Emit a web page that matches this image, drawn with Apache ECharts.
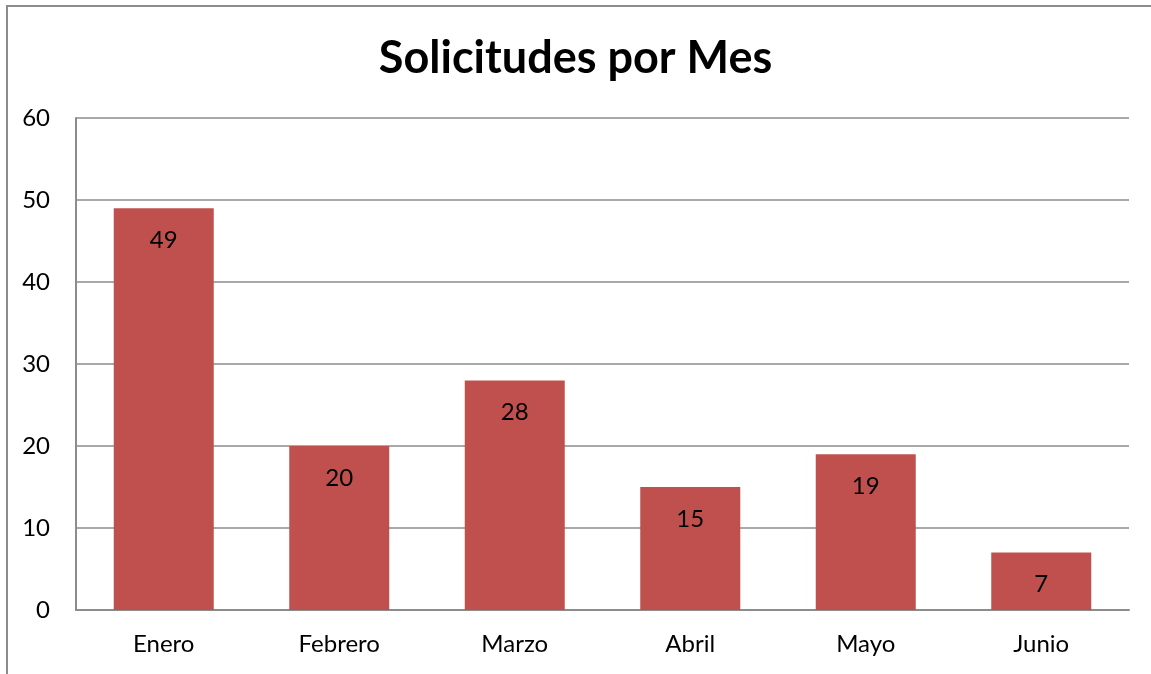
<!DOCTYPE html>
<html>
<head>
<meta charset="utf-8">
<script src="https://cdn.jsdelivr.net/npm/echarts@6/dist/echarts.min.js"></script>
<style>
  html, body { margin: 0; padding: 0; background: #fff; }
  #chart { width: 1151px; height: 674px; }
</style>
</head>
<body>
<div id="chart"></div>
<script>
const meses = ['Enero', 'Febrero', 'Marzo', 'Abril', 'Mayo', 'Junio'];
const solicitudes = [49, 20, 28, 15, 19, 7];
const yTicks = [0, 10, 20, 30, 40, 50, 60];

const chart = echarts.init(document.getElementById('chart'));
const fuente = 'Lato, "Open Sans", sans-serif';

chart.setOption({
    animation: false,
    textStyle: { fontFamily: fuente },
    graphic: [{
        type: 'rect',
        shape: { x: 7, y: 6, width: 1300, height: 900 },
        style: { fill: 'none', stroke: '#8c8c8c', lineWidth: 2 },
        silent: true
    }],
    title: {
        text: 'Solicitudes por Mes',
        left: 'center',
        top: 31,
        textStyle: { fontFamily: fuente, fontSize: 45, fontWeight: 'bold', color: '#000' }
    },
    grid: { left: 76, right: 22, top: 118, bottom: 64 },
    xAxis: {
        type: 'category',
        data: meses,
        axisLine: { lineStyle: { color: '#8c8c8c', width: 2 } },
        axisTick: { show: false },
        axisLabel: { color: '#000', fontSize: 24, margin: 22, fontFamily: fuente }
    },
    yAxis: {
        type: 'value',
        min: yTicks[0],
        max: yTicks[yTicks.length - 1],
        interval: 10,
        axisLine: { show: true, lineStyle: { color: '#8c8c8c', width: 2 } },
        axisTick: { show: false },
        splitLine: { lineStyle: { color: '#8c8c8c', width: 1.5 } },
        axisLabel: { color: '#000', fontSize: 24, margin: 26, fontFamily: fuente }
    },
    series: [{
        type: 'bar',
        data: solicitudes,
        barWidth: 100,
        itemStyle: { color: '#C0504D' },
        label: {
            show: true,
            position: 'insideTop',
            distance: 20,
            color: '#000',
            fontSize: 24,
            fontFamily: fuente
        }
    }]
});
</script>
</body>
</html>
